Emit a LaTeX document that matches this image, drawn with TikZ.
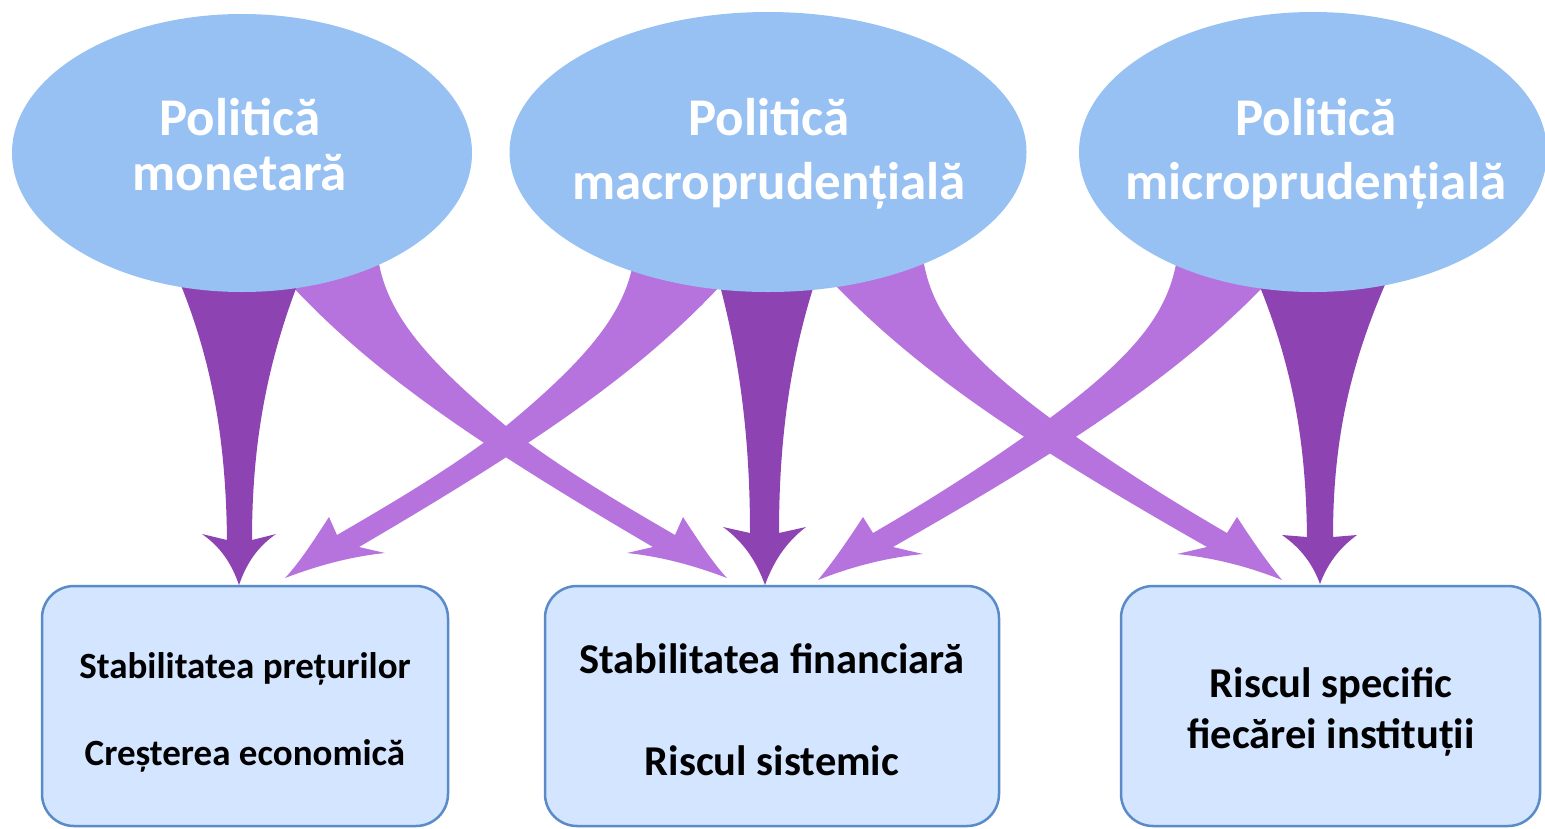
\documentclass[tikz,border=0pt]{standalone}
\usepackage{fontspec}
\setmainfont{Carlito}
\usetikzlibrary{shapes.geometric}

\definecolor{ellfill}{RGB}{151,193,242}
\definecolor{darkarrow}{RGB}{142,67,179}
\definecolor{lightarrow}{RGB}{183,115,221}
\definecolor{boxfill}{RGB}{211,229,255}
\definecolor{boxline}{RGB}{90,139,201}

\tikzset{
  policy/.style={ellipse, fill=ellfill, inner sep=0pt},
  policytext/.style={anchor=base, text=white, font=\fontsize{53}{55}\selectfont\bfseries},
  goalbox/.style={rectangle, rounded corners=32pt, fill=boxfill, draw=boxline, line width=2.5pt, minimum height=240pt},
  goaltext/.style={anchor=base, text=black, font=\fontsize{37}{39}\selectfont\bfseries},
  goaltextlarge/.style={anchor=base, text=black, font=\fontsize{42.5}{44}\selectfont\bfseries},
  mainflow/.style={fill=darkarrow},
  sideflow/.style={fill=lightarrow},
}

\begin{document}
\begin{tikzpicture}[x=1pt, y=-1pt]
\useasboundingbox (0,0) rectangle (1545,828);

% ---- crossing side effects (lighter arrows) ----
% monetary -> financial stability
\path[sideflow] (378,258) .. controls (386,310) and (420,355) .. (506,426)
  .. controls (560,468) and (620,503) .. (675,535) -- (683,517)
  .. controls (698,540) and (712,562) .. (727,578)
  .. controls (698,567) and (665,557) .. (627,553) -- (653,547)
  .. controls (470,440) and (370,370) .. (290,284) -- cycle;
% macroprudential -> price stability
\path[sideflow] (634,258) .. controls (626,310) and (592,355) .. (506,426)
  .. controls (452,468) and (392,503) .. (337,535) -- (329,517)
  .. controls (314,540) and (300,562) .. (285,578)
  .. controls (314,567) and (347,557) .. (385,553) -- (359,547)
  .. controls (542,440) and (642,370) .. (722,284) -- cycle;
% macroprudential -> institution-specific risk
\path[sideflow] (923,258) .. controls (931,312) and (965,355) .. (1050,418)
  .. controls (1110,462) and (1170,500) .. (1227,533) -- (1237,517)
  .. controls (1252,540) and (1267,562) .. (1282,580)
  .. controls (1252,568) and (1217,558) .. (1177,554) -- (1207,547)
  .. controls (1012,436) and (915,368) .. (832,282) -- cycle;
% microprudential -> financial stability
\path[sideflow] (1177,258) .. controls (1169,312) and (1135,355) .. (1050,418)
  .. controls (990,462) and (930,500) .. (873,533) -- (863,517)
  .. controls (848,540) and (833,562) .. (818,580)
  .. controls (848,568) and (883,558) .. (923,554) -- (893,547)
  .. controls (1088,436) and (1185,368) .. (1268,282) -- cycle;

% ---- main objectives (darker arrows) ----
\path[mainflow] (178,278) .. controls (212,360) and (226,440) .. (227,540)
  -- (202,534) .. controls (222,548) and (232,565) .. (239,585)
  .. controls (246,565) and (256,548) .. (276,534) -- (252,540)
  .. controls (252,440) and (268,360) .. (300,278) -- cycle;
\path[mainflow] (719,282) .. controls (740,360) and (750,440) .. (750,533)
  -- (723,527) .. controls (745,543) and (757,563) .. (765,585)
  .. controls (773,563) and (785,543) .. (806,527) -- (779,533)
  .. controls (779,440) and (790,360) .. (815,282) -- cycle;
\path[mainflow] (1258,282) .. controls (1292,365) and (1306,440) .. (1307,537)
  -- (1282,535) .. controls (1302,549) and (1313,565) .. (1320,584)
  .. controls (1327,565) and (1338,549) .. (1357,535) -- (1333,537)
  .. controls (1333,440) and (1350,365) .. (1387,280) -- cycle;

% ---- policies ----
\node[policy, minimum width=460pt, minimum height=278pt] (e1) at (242,153) {};
\node[policy, minimum width=517pt, minimum height=280pt] (e2) at (768,152) {};
\node[policy, minimum width=468pt, minimum height=280pt] (e3) at (1313,152) {};

\node[policytext] (e1a) at (240,135) {Politică};
\node[policytext] (e1b) at (240,190) {monetară};
\node[policytext] (e2a) at (769,135) {Politică};
\node[policytext] (e2b) at (769,199) {macroprudențială};
\node[policytext] (e3a) at (1316,135) {Politică};
\node[policytext] (e3b) at (1316,199) {microprudențială};

% ---- objectives ----
\node[goalbox, minimum width=406pt] (b1) at (245,706) {};
\node[goalbox, minimum width=454pt] (b2) at (772,706) {};
\node[goalbox, minimum width=419pt] (b3) at (1330.5,706) {};

\node[goaltext] (b1a) at (245,678) {Stabilitatea prețurilor};
\node[goaltext] (b1b) at (245,765) {Creșterea economică};
\node[goaltextlarge] (b2a) at (772,673) {Stabilitatea financiară};
\node[goaltextlarge] (b2b) at (772,775) {Riscul sistemic};
\node[goaltextlarge] (b3a) at (1331,697) {Riscul specific};
\node[goaltextlarge] (b3b) at (1331,748) {fiecărei instituții};
\end{tikzpicture}
\end{document}
